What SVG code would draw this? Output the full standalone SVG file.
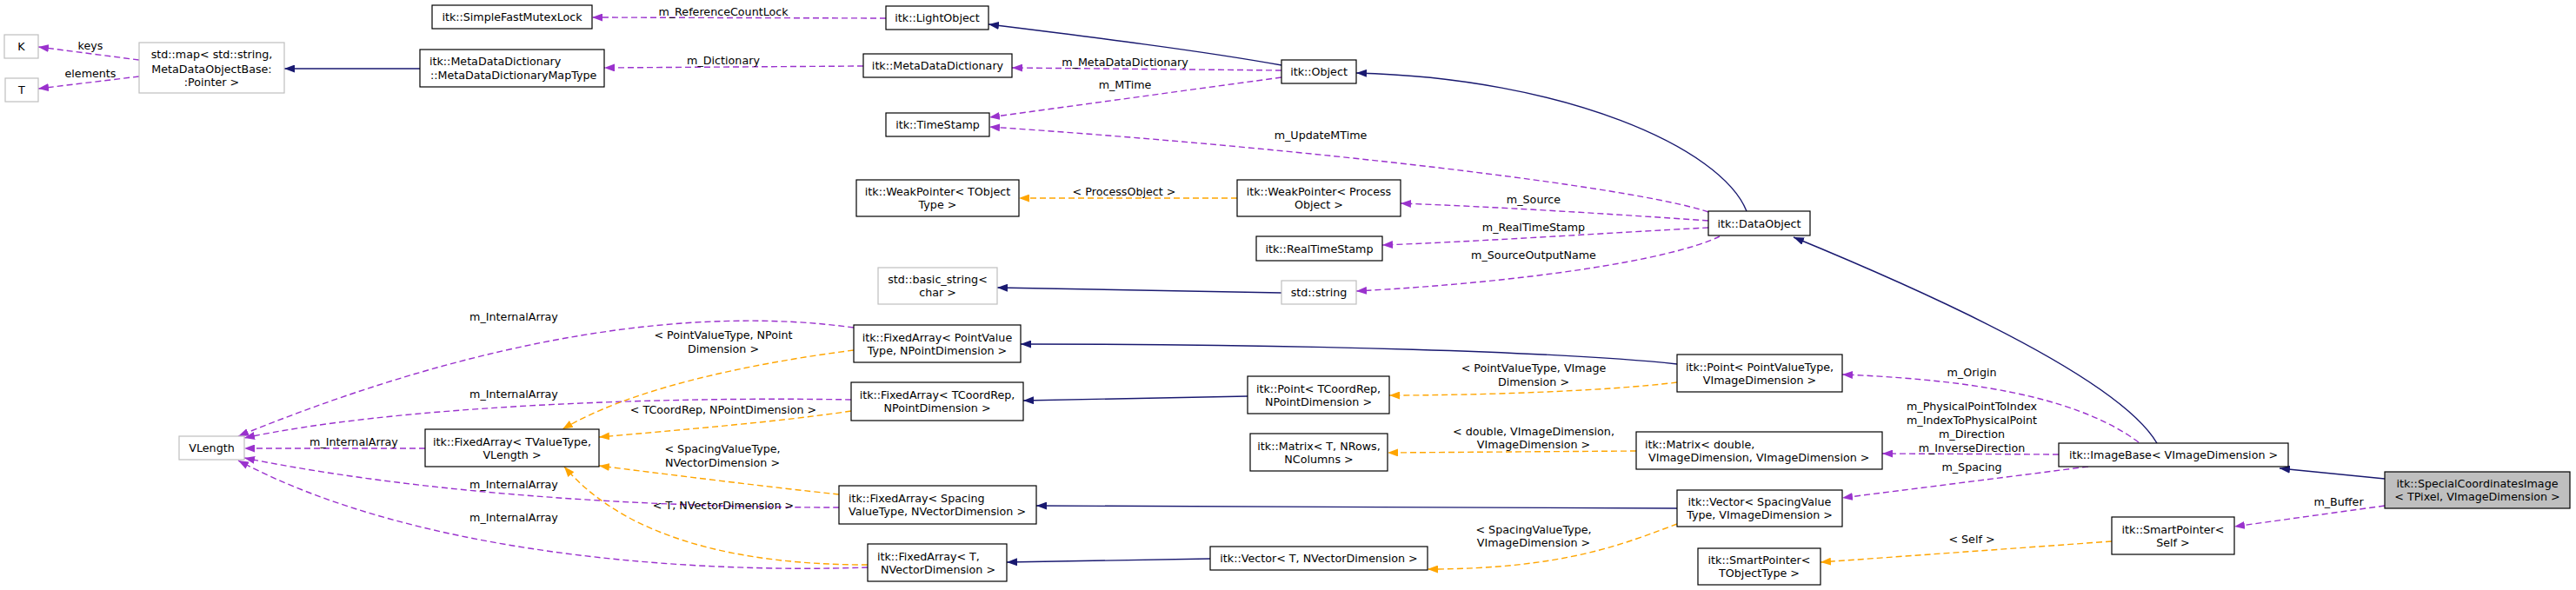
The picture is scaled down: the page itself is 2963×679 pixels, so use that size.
<svg xmlns="http://www.w3.org/2000/svg" width="2963" height="679" viewBox="0 0 2963 679">
<style>
.bg{fill:#ffffff}
.n rect{fill:#ffffff;stroke:#000000;stroke-width:1.2}
.n.gr rect{stroke:#bfbfbf}
.n.cur rect{fill:#bfbfbf;stroke:#000000}
text{font-family:"DejaVu Sans","Liberation Sans",sans-serif;font-size:12.7px;fill:#000000}
.c{text-anchor:middle}
.l{text-anchor:start}
.e path{fill:none;stroke-width:1.4}
.nv{stroke:#191970}
.pu{stroke:#9a32cd;stroke-dasharray:7,4}
.or{stroke:#ffa500;stroke-dasharray:7,4}
</style>
<defs>
<marker id="aN" viewBox="0 0 12 9" refX="12" refY="4.5" markerWidth="12" markerHeight="9" markerUnits="userSpaceOnUse" orient="auto"><path d="M0,0 L12,4.5 L0,9 z" fill="#191970"/></marker>
<marker id="aP" viewBox="0 0 12 9" refX="12" refY="4.5" markerWidth="12" markerHeight="9" markerUnits="userSpaceOnUse" orient="auto"><path d="M0,0 L12,4.5 L0,9 z" fill="#9a32cd"/></marker>
<marker id="aO" viewBox="0 0 12 9" refX="12" refY="4.5" markerWidth="12" markerHeight="9" markerUnits="userSpaceOnUse" orient="auto"><path d="M0,0 L12,4.5 L0,9 z" fill="#ffa500"/></marker>
</defs>
<rect class="bg" x="0" y="0" width="2963" height="679"/>

<g id="edges" class="e">
<path class="pu" marker-end="url(#aP)" d="M160,69 L44,54"/>
<path class="pu" marker-end="url(#aP)" d="M160,88 L44,102"/>
<path class="nv" marker-end="url(#aN)" d="M483,79 L327,79"/>
<path class="pu" marker-end="url(#aP)" d="M993,76 L695,78"/>
<path class="pu" marker-end="url(#aP)" d="M1019,21 L681,20"/>
<path class="nv" marker-end="url(#aN)" d="M1474,75 C1380,58 1250,42 1137,28"/>
<path class="pu" marker-end="url(#aP)" d="M1474,81 L1164,78"/>
<path class="pu" marker-end="url(#aP)" d="M1474,89 L1138,135"/>
<path class="pu" marker-end="url(#aP)" d="M1965,244 C1880,215 1500,170 1138,146"/>
<path class="nv" marker-end="url(#aN)" d="M2009,243 C1980,170 1800,90 1560,84"/>
<path class="pu" marker-end="url(#aP)" d="M1965,254 C1850,246 1720,238 1611,234"/>
<path class="or" marker-end="url(#aO)" d="M1423,228 L1172,228"/>
<path class="pu" marker-end="url(#aP)" d="M1965,262 C1850,268 1700,278 1590,282"/>
<path class="pu" marker-end="url(#aP)" d="M1978,272 C1920,300 1750,325 1560,335"/>
<path class="nv" marker-end="url(#aN)" d="M1474,337 L1147,331"/>
<path class="nv" marker-end="url(#aN)" d="M1929,419 C1800,405 1500,396 1174,396"/>
<path class="or" marker-end="url(#aO)" d="M1929,440 C1850,450 1700,455 1598,455"/>
<path class="pu" marker-end="url(#aP)" d="M2460,509 C2400,465 2300,438 2119,431"/>
<path class="nv" marker-end="url(#aN)" d="M2481,510 C2440,440 2250,350 2063,273"/>
<path class="nv" marker-end="url(#aN)" d="M1435,456 L1177,461"/>
<path class="or" marker-end="url(#aO)" d="M979,473 C900,485 780,495 689,503"/>
<path class="pu" marker-end="url(#aP)" d="M979,460 C750,456 450,468 281,504"/>
<path class="pu" marker-end="url(#aP)" d="M982,377 C800,352 560,385 274,502"/>
<path class="or" marker-end="url(#aO)" d="M982,403 C850,420 720,450 647,494"/>
<path class="pu" marker-end="url(#aP)" d="M489,516 L281,516"/>
<path class="or" marker-end="url(#aO)" d="M965,569 C880,560 760,545 689,536"/>
<path class="pu" marker-end="url(#aP)" d="M965,584 C800,584 520,575 281,527"/>
<path class="or" marker-end="url(#aO)" d="M998,650 C850,650 720,620 649,537"/>
<path class="pu" marker-end="url(#aP)" d="M998,653 C800,660 480,640 274,530"/>
<path class="nv" marker-end="url(#aN)" d="M1929,585 L1192,582"/>
<path class="or" marker-end="url(#aO)" d="M1882,519 L1596,521"/>
<path class="or" marker-end="url(#aO)" d="M1929,603 C1870,625 1800,655 1642,655"/>
<path class="nv" marker-end="url(#aN)" d="M1392,643 L1158,647"/>
<path class="pu" marker-end="url(#aP)" d="M2368,523 L2165,522"/>
<path class="pu" marker-end="url(#aP)" d="M2402,537 L2119,573"/>
<path class="nv" marker-end="url(#aN)" d="M2743,551 L2622,539"/>
<path class="pu" marker-end="url(#aP)" d="M2743,582 L2570,606"/>
<path class="or" marker-end="url(#aO)" d="M2429,623 L2094,647"/>
</g>

<g id="edge-labels">
<text class="c" x="104" y="56.5">keys</text>
<text class="c" x="104" y="88.5">elements</text>
<text class="c" x="832" y="73.5">m_Dictionary</text>
<text class="c" x="832" y="17.5">m_ReferenceCountLock</text>
<text class="c" x="1294" y="75.5">m_MetaDataDictionary</text>
<text class="c" x="1294" y="101.5">m_MTime</text>
<text class="c" x="1519" y="159.5">m_UpdateMTime</text>
<text class="c" x="1764" y="233.5">m_Source</text>
<text class="c" x="1293" y="224.5">&lt; ProcessObject &gt;</text>
<text class="c" x="1764" y="265.5">m_RealTimeStamp</text>
<text class="c" x="1764" y="297.5">m_SourceOutputName</text>
<text class="c" x="1764" y="427.5">&lt; PointValueType, VImage</text>
<text class="c" x="1764" y="443.5">Dimension &gt;</text>
<text class="c" x="2268" y="432.5">m_Origin</text>
<text class="c" x="832" y="475.5">&lt; TCoordRep, NPointDimension &gt;</text>
<text class="c" x="591" y="457.5">m_InternalArray</text>
<text class="c" x="591" y="368.5">m_InternalArray</text>
<text class="c" x="832" y="389.5">&lt; PointValueType, NPoint</text>
<text class="c" x="832" y="405.5">Dimension &gt;</text>
<text class="c" x="407" y="512.5">m_InternalArray</text>
<text class="c" x="831" y="520.5">&lt; SpacingValueType,</text>
<text class="c" x="831" y="536.5">NVectorDimension &gt;</text>
<text class="c" x="591" y="561.5">m_InternalArray</text>
<text class="c" x="832" y="585.5">&lt; T, NVectorDimension &gt;</text>
<text class="c" x="591" y="599.5">m_InternalArray</text>
<text class="c" x="1764" y="500.5">&lt; double, VImageDimension,</text>
<text class="c" x="1764" y="515.5">VImageDimension &gt;</text>
<text class="c" x="1764" y="613.5">&lt; SpacingValueType,</text>
<text class="c" x="1764" y="628.5">VImageDimension &gt;</text>
<text class="c" x="2268" y="471.5">m_PhysicalPointToIndex</text>
<text class="c" x="2268" y="487.5">m_IndexToPhysicalPoint</text>
<text class="c" x="2268" y="503.5">m_Direction</text>
<text class="c" x="2268" y="519.5">m_InverseDirection</text>
<text class="c" x="2268" y="541.5">m_Spacing</text>
<text class="c" x="2690" y="581.5">m_Buffer</text>
<text class="c" x="2268" y="624.5">&lt; Self &gt;</text>
</g>

<g id="node-K" class="n gr"><rect x="5" y="40" width="39" height="27"/><text class="c" x="24.5" y="58">K</text></g>
<g id="node-T" class="n gr"><rect x="6" y="90" width="38" height="27"/><text class="c" x="25" y="108">T</text></g>
<g id="node-stdmap" class="n gr"><rect x="160" y="49" width="167" height="58"/><text class="c" x="243.5" y="66.5">std::map&lt; std::string,</text><text class="c" x="243.5" y="83.5">MetaDataObjectBase:</text><text class="c" x="243.5" y="98.5">:Pointer &gt;</text></g>
<g id="node-MapType" class="n"><rect x="483" y="57" width="212" height="43"/><text class="l" x="494" y="75">itk::MetaDataDictionary</text><text class="l" x="495" y="90.5">::MetaDataDictionaryMapType</text></g>
<g id="node-SimpleFastMutexLock" class="n"><rect x="497" y="6" width="184" height="27"/><text class="c" x="589" y="24">itk::SimpleFastMutexLock</text></g>
<g id="node-LightObject" class="n"><rect x="1019" y="7" width="118" height="27"/><text class="c" x="1078" y="25">itk::LightObject</text></g>
<g id="node-MetaDataDictionary" class="n"><rect x="993" y="62" width="171" height="27"/><text class="c" x="1078.5" y="80">itk::MetaDataDictionary</text></g>
<g id="node-Object" class="n"><rect x="1474" y="69" width="86" height="27"/><text class="c" x="1517" y="87">itk::Object</text></g>
<g id="node-TimeStamp" class="n"><rect x="1019" y="130" width="119" height="27"/><text class="c" x="1078.5" y="148">itk::TimeStamp</text></g>
<g id="node-WeakPointerT" class="n"><rect x="985" y="207" width="187" height="42"/><text class="c" x="1078.5" y="224.5">itk::WeakPointer&lt; TObject</text><text class="c" x="1078.5" y="239.5">Type &gt;</text></g>
<g id="node-WeakPointerP" class="n"><rect x="1423" y="207" width="188" height="42"/><text class="c" x="1517" y="224.5">itk::WeakPointer&lt; Process</text><text class="c" x="1517" y="239.5">Object &gt;</text></g>
<g id="node-DataObject" class="n"><rect x="1965" y="243" width="117" height="28"/><text class="c" x="2023.5" y="261.5">itk::DataObject</text></g>
<g id="node-RealTimeStamp" class="n"><rect x="1445" y="272" width="145" height="28"/><text class="c" x="1517.5" y="290.5">itk::RealTimeStamp</text></g>
<g id="node-basic_string" class="n gr"><rect x="1010" y="308" width="137" height="42"/><text class="c" x="1078.5" y="325.5">std::basic_string&lt;</text><text class="c" x="1078.5" y="340.5">char &gt;</text></g>
<g id="node-string" class="n gr"><rect x="1474" y="323" width="86" height="27"/><text class="c" x="1517" y="341">std::string</text></g>
<g id="node-FA_PointValue" class="n"><rect x="982" y="374" width="192" height="43"/><text class="c" x="1078" y="392.5">itk::FixedArray&lt; PointValue</text><text class="c" x="1078" y="407.5">Type, NPointDimension &gt;</text></g>
<g id="node-Point_PVT" class="n"><rect x="1929" y="408" width="190" height="43"/><text class="c" x="2024" y="426.5">itk::Point&lt; PointValueType,</text><text class="c" x="2024" y="441.5">VImageDimension &gt;</text></g>
<g id="node-Point_TCoordRep" class="n"><rect x="1435" y="433" width="163" height="43"/><text class="c" x="1516.5" y="451.5">itk::Point&lt; TCoordRep,</text><text class="c" x="1516.5" y="466.5">NPointDimension &gt;</text></g>
<g id="node-FA_TCoordRep" class="n"><rect x="979" y="440" width="198" height="44"/><text class="c" x="1078" y="458.5">itk::FixedArray&lt; TCoordRep,</text><text class="c" x="1078" y="473.5">NPointDimension &gt;</text></g>
<g id="node-Matrix_T" class="n"><rect x="1438" y="499" width="158" height="43"/><text class="c" x="1517" y="517.5">itk::Matrix&lt; T, NRows,</text><text class="c" x="1517" y="532.5">NColumns &gt;</text></g>
<g id="node-Matrix_double" class="n"><rect x="1882" y="497" width="283" height="43"/><text class="l" x="1892" y="515.5">itk::Matrix&lt; double,</text><text class="l" x="1896" y="530.5">VImageDimension, VImageDimension &gt;</text></g>
<g id="node-ImageBase" class="n"><rect x="2368" y="510" width="264" height="27"/><text class="c" x="2500" y="528">itk::ImageBase&lt; VImageDimension &gt;</text></g>
<g id="node-SpecialCoordinatesImage" class="n cur"><rect x="2743" y="543" width="213" height="42"/><text class="c" x="2849.5" y="560.5">itk::SpecialCoordinatesImage</text><text class="c" x="2849.5" y="575.5">&lt; TPixel, VImageDimension &gt;</text></g>
<g id="node-FA_Spacing" class="n"><rect x="965" y="559" width="227" height="44"/><text class="l" x="976" y="577.5">itk::FixedArray&lt; Spacing</text><text class="l" x="976" y="592.5">ValueType, NVectorDimension &gt;</text></g>
<g id="node-Vector_SV" class="n"><rect x="1929" y="564" width="190" height="42"/><text class="c" x="2024" y="581.5">itk::Vector&lt; SpacingValue</text><text class="c" x="2024" y="596.5">Type, VImageDimension &gt;</text></g>
<g id="node-FA_T" class="n"><rect x="998" y="626" width="160" height="43"/><text class="l" x="1009" y="644.5">itk::FixedArray&lt; T,</text><text class="l" x="1013" y="659.5">NVectorDimension &gt;</text></g>
<g id="node-Vector_T" class="n"><rect x="1392" y="629" width="250" height="27"/><text class="c" x="1517" y="647">itk::Vector&lt; T, NVectorDimension &gt;</text></g>
<g id="node-SP_TObjectType" class="n"><rect x="1953" y="631" width="141" height="42"/><text class="c" x="2023.5" y="648.5">itk::SmartPointer&lt;</text><text class="c" x="2023.5" y="663.5">TObjectType &gt;</text></g>
<g id="node-SP_Self" class="n"><rect x="2429" y="595" width="141" height="43"/><text class="c" x="2499.5" y="613.5">itk::SmartPointer&lt;</text><text class="c" x="2499.5" y="628.5">Self &gt;</text></g>
<g id="node-VLength" class="n gr"><rect x="206" y="502" width="75" height="27"/><text class="c" x="243.5" y="520">VLength</text></g>
<g id="node-FA_TValueType" class="n"><rect x="489" y="494" width="200" height="43"/><text class="c" x="589" y="512.5">itk::FixedArray&lt; TValueType,</text><text class="c" x="589" y="527.5">VLength &gt;</text></g>
</svg>
